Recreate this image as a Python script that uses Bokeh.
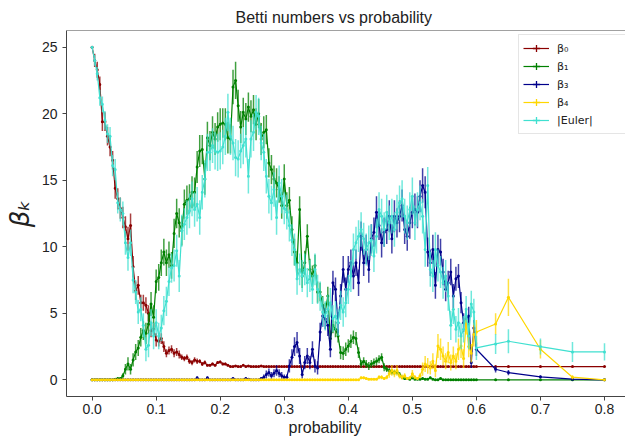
from bokeh.plotting import figure
from bokeh.models import (Range1d, Span, Legend, LegendItem, ColumnDataSource,
                          NumeralTickFormatter, FixedTicker, Title)
from bokeh.embed import file_html
from bokeh.resources import INLINE

# ---------------- data ----------------
prob = [round(0.004 * i, 3) for i in range(151)] + [0.63, 0.65, 0.7, 0.75, 0.8]

beta0 = [
    25.0, 24.0, 23.3, 22.2, 19.4, 19.4, 18.3, 17.5, 16.5, 14.4,
    13.6, 12.9, 12.2, 11.5, 10.6, 11.6, 8.5, 6.7, 7.1, 5.8,
    5.8, 5.6, 5.0, 3.7, 3.8, 3.0, 2.9, 3.1, 2.5, 2.0,
    2.2, 2.3, 2.0, 2.1, 1.9, 1.7, 1.6, 1.7, 1.4, 1.3,
    1.5, 1.4, 1.4, 1.2, 1.3, 1.1, 1.1, 1.2, 1.1, 1.3,
    1.35, 1.2, 1.2, 1.1, 1.0, 1.0, 1.05, 1.0, 1.0, 1.1,
    1.0, 1.05, 1.0, 1.0, 1.0, 1.0, 1.05, 1.0, 1.0, 1.0,
    1.0, 1.0, 1.0, 1.0, 1.0, 1.0, 1.0, 1.0, 1.0, 1.0,
    1.0, 1.0, 1.0, 1.0, 1.0, 1.0, 1.0, 1.0, 1.0, 1.0,
    1.0, 1.0, 1.0, 1.0, 1.0, 1.0, 1.0, 1.0, 1.0, 1.0,
    1.0, 1.0, 1.0, 1.0, 1.0, 1.0, 1.0, 1.0, 1.0, 1.0,
    1.0, 1.0, 1.0, 1.0, 1.0, 1.0, 1.0, 1.0, 1.0, 1.0,
    1.0, 1.0, 1.0, 1.0, 1.0, 1.0, 1.0, 1.0, 1.0, 1.0,
    1.0, 1.0, 1.0, 1.0, 1.0, 1.0, 1.0, 1.0, 1.0, 1.0,
    1.0, 1.0, 1.0, 1.0, 1.0, 1.0, 1.0, 1.0, 1.0, 1.0, 1.0,
    1.0, 1.0, 1.0, 1.0, 1.0,
]
beta0_err = [
    0.0, 0.5, 0.6, 0.6, 0.7, 0.7, 0.7, 0.7, 0.7, 0.8,
    0.8, 0.8, 0.8, 0.8, 0.9, 0.9, 0.8, 0.7, 0.7, 0.6,
    0.6, 0.6, 0.6, 0.5, 0.5, 0.5, 0.4, 0.4, 0.4, 0.3,
    0.3, 0.3, 0.3, 0.3, 0.3, 0.2, 0.2, 0.2, 0.2, 0.2,
    0.2, 0.2, 0.15, 0.15, 0.15, 0.1, 0.1, 0.1, 0.1, 0.1,
    0.1, 0.1, 0.1, 0.1, 0.05, 0.05, 0.05, 0.05, 0.05, 0.05,
    0.05, 0.05, 0.05, 0.05, 0.05, 0.05, 0.05, 0.05, 0.05, 0.05,
    0.0, 0.0, 0.0, 0.0, 0.0, 0.0, 0.0, 0.0, 0.0, 0.0,
    0.0, 0.0, 0.0, 0.0, 0.0, 0.0, 0.0, 0.0, 0.0, 0.0,
    0.0, 0.0, 0.0, 0.0, 0.0, 0.0, 0.0, 0.0, 0.0, 0.0,
    0.0, 0.0, 0.0, 0.0, 0.0, 0.0, 0.0, 0.0, 0.0, 0.0,
    0.0, 0.0, 0.0, 0.0, 0.0, 0.0, 0.0, 0.0, 0.0, 0.0,
    0.0, 0.0, 0.0, 0.0, 0.0, 0.0, 0.0, 0.0, 0.0, 0.0,
    0.0, 0.0, 0.0, 0.0, 0.0, 0.0, 0.0, 0.0, 0.0, 0.0,
    0.0, 0.0, 0.0, 0.0, 0.0, 0.0, 0.0, 0.0, 0.0, 0.0, 0.0,
    0.0, 0.0, 0.0, 0.0, 0.0,
]

beta1 = [
    0.0, 0.0, 0.0, 0.0, 0.0, 0.0, 0.0, 0.0, 0.0, 0.05,
    0.1, 0.1, 0.3, 0.8, 1.2, 0.8, 1.5, 2.1, 2.4, 3.2,
    3.7, 3.5, 4.2, 5.7, 4.7, 7.4, 7.7, 8.8, 9.6, 8.8,
    9.4, 8.6, 11.0, 12.5, 11.8, 11.2, 13.2, 13.5, 13.6, 14.1,
    14.1, 16.0, 17.2, 17.3, 15.1, 18.2, 17.6, 18.6, 18.1, 19.0,
    19.2, 19.3, 19.2, 18.2, 18.1, 22.0, 22.5, 20.6, 19.0, 20.1,
    19.6, 20.5, 19.8, 20.3, 19.2, 20.0, 18.1, 18.6, 18.8, 16.3,
    15.8, 15.1, 14.8, 14.3, 13.1, 15.1, 13.1, 13.5, 11.3, 9.6,
    8.8, 12.8, 7.8, 8.8, 10.8, 8.3, 7.8, 8.6, 6.6, 6.6,
    5.6, 5.1, 6.3, 3.1, 4.1, 3.8, 3.3, 2.05, 2.0, 2.3,
    2.55, 2.9, 3.2, 3.1, 2.05, 1.2, 1.4, 1.2, 1.05, 1.2,
    1.3, 1.4, 1.55, 1.7, 0.95, 0.8, 0.7, 0.6, 0.55, 0.6,
    0.4, 0.2, 0.1, 0.1, 0.05, 0.15, 0.05, 0.05, 0.05, 0.1,
    0.05, 0.05, 0.15, 0.05, 0.0, 0.0, 0.1, 0.0, 0.0, 0.0,
    0.0, 0.0, 0.0, 0.0, 0.0, 0.0, 0.0, 0.0, 0.0, 0.0, 0.0,
    0.0, 0.0, 0.0, 0.0, 0.0,
]
beta1_err = [
    0.0, 0.0, 0.0, 0.0, 0.0, 0.0, 0.0, 0.0, 0.0, 0.05,
    0.1, 0.1, 0.2, 0.4, 0.5, 0.4, 0.5, 0.6, 0.6, 0.7,
    0.7, 0.8, 0.8, 0.9, 0.9, 0.9, 1.0, 1.0, 1.0, 1.0,
    1.0, 1.0, 1.1, 1.1, 1.1, 1.1, 1.1, 1.1, 1.1, 1.2,
    1.1, 1.2, 1.2, 1.1, 1.2, 1.2, 1.1, 1.2, 1.2, 1.1,
    1.2, 1.1, 1.2, 1.2, 1.1, 1.3, 1.4, 1.2, 1.2, 1.1,
    1.2, 1.1, 1.2, 1.1, 1.2, 1.1, 1.2, 1.2, 1.1, 1.1,
    1.1, 1.0, 1.1, 1.0, 1.0, 1.1, 1.0, 1.0, 1.0, 1.0,
    0.9, 1.0, 0.9, 0.9, 0.9, 0.8, 0.8, 0.8, 0.8, 0.7,
    0.7, 0.7, 0.7, 0.6, 0.6, 0.6, 0.5, 0.5, 0.5, 0.5,
    0.5, 0.5, 0.5, 0.5, 0.4, 0.3, 0.3, 0.3, 0.3, 0.3,
    0.3, 0.3, 0.3, 0.3, 0.3, 0.2, 0.2, 0.2, 0.2, 0.2,
    0.2, 0.1, 0.1, 0.1, 0.05, 0.1, 0.05, 0.05, 0.05, 0.1,
    0.05, 0.05, 0.1, 0.05, 0.0, 0.0, 0.1, 0.0, 0.0, 0.0,
    0.0, 0.0, 0.0, 0.0, 0.0, 0.0, 0.0, 0.0, 0.0, 0.0, 0.0,
    0.0, 0.0, 0.0, 0.0, 0.0,
]

beta3 = [
    0.0, 0.0, 0.0, 0.0, 0.0, 0.0, 0.0, 0.0, 0.0, 0.0,
    0.0, 0.0, 0.0, 0.0, 0.0, 0.0, 0.0, 0.0, 0.0, 0.0,
    0.0, 0.0, 0.0, 0.0, 0.0, 0.0, 0.0, 0.0, 0.0, 0.0,
    0.0, 0.0, 0.0, 0.0, 0.0, 0.0, 0.0, 0.0, 0.0, 0.0,
    0.0, 0.15, 0.0, 0.0, 0.0, 0.15, 0.0, 0.0, 0.0, 0.0,
    0.0, 0.0, 0.0, 0.0, 0.0, 0.1, 0.0, 0.0, 0.0, 0.0,
    0.1, 0.05, 0.0, 0.0, 0.0, 0.0, 0.1, 0.2, 0.4, 0.55,
    0.3, 0.5, 0.7, 0.5, 0.3, 0.2, 0.2, 1.05, 1.7, 2.5,
    2.8, 1.8, 0.4, 1.3, 1.8, 1.3, 2.3, 1.05, 0.9, 3.6,
    4.8, 4.6, 4.1, 2.3, 7.3, 6.8, 4.3, 6.3, 8.3, 6.8,
    8.3, 8.8, 7.8, 8.8, 7.3, 10.8, 8.8, 9.8, 8.3, 10.6,
    11.1, 12.6, 11.6, 10.3, 11.1, 11.3, 12.3, 10.6, 12.3, 11.8,
    12.3, 13.1, 11.3, 10.8, 11.8, 12.6, 12.8, 12.6, 13.8, 14.6,
    14.1, 9.6, 8.8, 9.8, 7.1, 9.8, 9.6, 8.1, 6.8, 7.3,
    8.1, 6.3, 7.6, 7.8, 5.8, 4.3, 4.6, 4.8, 1.3, 3.9, 2.3,
    0.8, 0.55, 0.23, 0.05, 0.0,
]
beta3_err = [
    0.0, 0.0, 0.0, 0.0, 0.0, 0.0, 0.0, 0.0, 0.0, 0.0,
    0.0, 0.0, 0.0, 0.0, 0.0, 0.0, 0.0, 0.0, 0.0, 0.0,
    0.0, 0.0, 0.0, 0.0, 0.0, 0.0, 0.0, 0.0, 0.0, 0.0,
    0.0, 0.0, 0.0, 0.0, 0.0, 0.0, 0.0, 0.0, 0.0, 0.0,
    0.0, 0.1, 0.0, 0.0, 0.0, 0.1, 0.0, 0.0, 0.0, 0.0,
    0.0, 0.0, 0.0, 0.0, 0.0, 0.1, 0.0, 0.0, 0.0, 0.0,
    0.1, 0.05, 0.0, 0.0, 0.0, 0.0, 0.1, 0.2, 0.3, 0.3,
    0.3, 0.3, 0.4, 0.3, 0.3, 0.2, 0.2, 0.5, 0.6, 0.7,
    0.8, 0.6, 0.3, 0.5, 0.6, 0.5, 0.6, 0.5, 0.5, 0.7,
    0.8, 0.8, 0.8, 0.6, 0.9, 0.9, 0.8, 0.9, 1.0, 0.9,
    1.0, 1.0, 1.0, 1.0, 1.0, 1.1, 1.0, 1.1, 1.0, 1.1,
    1.1, 1.2, 1.1, 1.1, 1.1, 1.1, 1.2, 1.1, 1.2, 1.1,
    1.2, 1.2, 1.1, 1.1, 1.2, 1.2, 1.2, 1.2, 1.2, 1.3,
    1.2, 1.1, 1.0, 1.1, 1.0, 1.1, 1.0, 1.0, 0.9, 0.9,
    1.0, 0.9, 0.9, 0.9, 0.8, 0.7, 0.7, 0.7, 0.4, 0.6, 0.5,
    0.25, 0.2, 0.1, 0.05, 0.0,
]

beta4 = [
    0.0, 0.0, 0.0, 0.0, 0.0, 0.0, 0.0, 0.0, 0.0, 0.0,
    0.0, 0.0, 0.0, 0.0, 0.0, 0.0, 0.0, 0.0, 0.0, 0.0,
    0.0, 0.0, 0.0, 0.0, 0.0, 0.0, 0.0, 0.0, 0.0, 0.0,
    0.0, 0.0, 0.0, 0.0, 0.0, 0.0, 0.0, 0.0, 0.0, 0.0,
    0.0, 0.0, 0.0, 0.0, 0.0, 0.0, 0.0, 0.0, 0.0, 0.0,
    0.0, 0.0, 0.0, 0.0, 0.0, 0.0, 0.0, 0.0, 0.0, 0.0,
    0.0, 0.0, 0.0, 0.0, 0.0, 0.0, 0.0, 0.0, 0.0, 0.0,
    0.0, 0.0, 0.0, 0.0, 0.0, 0.0, 0.0, 0.0, 0.0, 0.0,
    0.0, 0.0, 0.0, 0.0, 0.0, 0.0, 0.0, 0.0, 0.0, 0.0,
    0.0, 0.0, 0.0, 0.0, 0.0, 0.0, 0.0, 0.0, 0.0, 0.0,
    0.0, 0.0, 0.0, 0.0, 0.0, 0.15, 0.15, 0.1, 0.05, 0.05,
    0.05, 0.05, 0.2, 0.2, 0.1, 0.2, 0.45, 0.7, 0.5, 0.7,
    0.3, 0.2, 0.3, 0.1, 0.15, 0.45, 0.2, 0.1, 0.3, 0.8,
    1.2, 1.05, 0.9, 1.4, 0.7, 2.55, 2.3, 1.8, 1.4, 2.05,
    1.3, 1.8, 1.4, 2.3, 2.55, 1.6, 4.4, 2.5, 2.0, 3.4, 3.6,
    4.2, 6.2, 2.3, 0.2, 0.0,
]
beta4_err = [
    0.0, 0.0, 0.0, 0.0, 0.0, 0.0, 0.0, 0.0, 0.0, 0.0,
    0.0, 0.0, 0.0, 0.0, 0.0, 0.0, 0.0, 0.0, 0.0, 0.0,
    0.0, 0.0, 0.0, 0.0, 0.0, 0.0, 0.0, 0.0, 0.0, 0.0,
    0.0, 0.0, 0.0, 0.0, 0.0, 0.0, 0.0, 0.0, 0.0, 0.0,
    0.0, 0.0, 0.0, 0.0, 0.0, 0.0, 0.0, 0.0, 0.0, 0.0,
    0.0, 0.0, 0.0, 0.0, 0.0, 0.0, 0.0, 0.0, 0.0, 0.0,
    0.0, 0.0, 0.0, 0.0, 0.0, 0.0, 0.0, 0.0, 0.0, 0.0,
    0.0, 0.0, 0.0, 0.0, 0.0, 0.0, 0.0, 0.0, 0.0, 0.0,
    0.0, 0.0, 0.0, 0.0, 0.0, 0.0, 0.0, 0.0, 0.0, 0.0,
    0.0, 0.0, 0.0, 0.0, 0.0, 0.0, 0.0, 0.0, 0.0, 0.0,
    0.0, 0.0, 0.0, 0.0, 0.0, 0.1, 0.1, 0.1, 0.05, 0.05,
    0.05, 0.05, 0.15, 0.15, 0.1, 0.15, 0.3, 0.4, 0.3, 0.4,
    0.2, 0.2, 0.2, 0.1, 0.1, 0.3, 0.15, 0.1, 0.2, 0.5,
    0.6, 0.6, 0.5, 0.6, 0.5, 0.9, 0.8, 0.7, 0.6, 0.8,
    0.6, 0.7, 0.6, 0.8, 0.9, 0.7, 1.0, 0.8, 0.7, 0.9, 0.9,
    0.8, 1.4, 0.7, 0.15, 0.0,
]

euler = [
    25.0, 24.0, 23.0, 21.2, 20.7, 19.5, 18.5, 18.3, 16.1, 15.8,
    13.3, 12.8, 12.5, 10.3, 9.2, 10.3, 7.5, 6.6, 5.1, 5.3,
    4.1, 2.3, 2.6, 4.3, 3.3, 4.3, 3.3, 3.9, 5.2, 5.9,
    7.4, 8.4, 8.6, 9.7, 7.8, 11.2, 11.7, 12.2, 12.7, 13.6,
    12.8, 13.2, 12.2, 14.1, 15.1, 17.1, 17.1, 17.6, 17.2, 17.1,
    17.2, 17.5, 18.3, 20.1, 18.3, 17.8, 16.7, 16.6, 17.2, 17.6,
    18.1, 15.3, 18.1, 18.6, 20.1, 19.8, 17.8, 17.1, 15.3, 13.8,
    13.3, 14.3, 12.2, 14.8, 13.8, 12.9, 12.6, 11.6, 10.5, 9.8,
    7.6, 8.3, 7.8, 8.3, 7.3, 7.8, 6.8, 8.3, 6.8, 6.3,
    5.1, 4.8, 5.3, 5.8, 4.6, 4.8, 4.3, 5.6, 5.1, 5.8,
    6.8, 7.8, 9.8, 10.3, 10.8, 11.3, 10.6, 9.8, 10.3, 10.5,
    9.3, 10.8, 12.8, 12.3, 11.3, 12.6, 11.8, 12.3, 11.3, 12.6,
    13.3, 13.6, 12.3, 11.8, 12.8, 13.8, 11.8, 12.8, 13.3, 12.3,
    9.8, 14.6, 8.3, 7.8, 9.8, 8.6, 8.1, 7.3, 7.8, 6.3,
    4.1, 5.3, 3.8, 4.3, 3.3, 3.8, 5.3, 3.3, 5.7, 5.1, 2.4,
    2.7, 2.9, 2.5, 2.1, 2.1,
]
euler_err = [
    0.0, 0.4, 0.5, 0.6, 0.6, 0.7, 0.7, 0.7, 0.8, 0.8,
    0.8, 0.9, 0.9, 0.9, 1.0, 1.0, 1.0, 0.9, 0.9, 0.9,
    0.9, 0.9, 0.9, 1.0, 1.0, 1.0, 1.0, 1.0, 1.1, 1.1,
    1.1, 1.1, 1.2, 1.2, 1.2, 1.2, 1.2, 1.3, 1.3, 1.3,
    1.3, 1.3, 1.3, 1.3, 1.4, 1.4, 1.4, 1.3, 1.4, 1.4,
    1.4, 1.3, 1.4, 1.4, 1.4, 1.3, 1.4, 1.4, 1.3, 1.4,
    1.4, 1.3, 1.4, 1.4, 1.3, 1.4, 1.3, 1.4, 1.3, 1.3,
    1.3, 1.3, 1.3, 1.3, 1.3, 1.2, 1.3, 1.2, 1.2, 1.2,
    1.2, 1.2, 1.2, 1.2, 1.1, 1.2, 1.1, 1.2, 1.1, 1.1,
    1.1, 1.1, 1.1, 1.1, 1.0, 1.1, 1.0, 1.1, 1.1, 1.1,
    1.1, 1.2, 1.2, 1.2, 1.2, 1.3, 1.2, 1.2, 1.3, 1.2,
    1.2, 1.3, 1.3, 1.3, 1.3, 1.3, 1.3, 1.3, 1.3, 1.3,
    1.3, 1.4, 1.3, 1.3, 1.3, 1.4, 1.3, 1.3, 1.3, 1.3,
    1.3, 1.4, 1.3, 1.2, 1.3, 1.2, 1.2, 1.2, 1.2, 1.1,
    1.1, 1.1, 1.0, 1.1, 1.0, 1.0, 1.0, 1.0, 1.0, 1.0, 0.9,
    0.75, 0.9, 0.6, 0.75, 0.65,
]

series_labels = ["β₀", "β₁", "β₃", "β₄", "|Euler|"]
series_values = [beta0, beta1, beta3, beta4, euler]
series_errors = [beta0_err, beta1_err, beta3_err, beta4_err, euler_err]
series_colors = ["#8B0000", "#008000", "#00008B", "#FFD700", "#40E0D0"]

x_ticks = [0.0, 0.1, 0.2, 0.3, 0.4, 0.5, 0.6, 0.7, 0.8]
y_ticks = [0, 5, 10, 15, 20, 25]

X_START, X_END = -0.04, 0.8328
Y_START, Y_END = -1.25, 26.25

# ---------------- figure ----------------
FONT = "Liberation Sans"
AXIS_COLOR = "#444444"
TEXT_COLOR = "#222222"

p = figure(width=625, height=436, output_backend="svg", toolbar_location=None,
           x_range=Range1d(X_START, X_END), y_range=Range1d(Y_START, Y_END),
           min_border_left=66, min_border_right=0, min_border_top=30,
           min_border_bottom=40)
p.outline_line_color = None
p.grid.visible = False
p.background_fill_color = "white"
p.border_fill_color = "white"

p.title.text = "Betti numbers vs probability"
p.title.align = "left"
p.title.offset = 169
p.title.text_font = FONT
p.title.text_font_size = "16px"
p.title.text_font_style = "normal"
p.title.text_color = TEXT_COLOR

for ax in (p.xaxis[0], p.yaxis[0]):
    ax.axis_line_color = AXIS_COLOR
    ax.major_tick_line_color = AXIS_COLOR
    ax.minor_tick_line_color = None
    ax.major_tick_in = 0
    ax.major_tick_out = 4
    ax.major_label_text_font = FONT
    ax.major_label_text_font_size = "14px"
    ax.major_label_text_color = TEXT_COLOR

p.xaxis.ticker = FixedTicker(ticks=x_ticks)
p.xaxis.formatter = NumeralTickFormatter(format="0.0")
p.xaxis.major_label_standoff = 3

# x-axis label as a below-panel title so it can sit where the reference has it
xlab = Title(text="probability", align="left", offset=222,
             text_font=FONT, text_font_size="16px", text_font_style="normal",
             text_color=TEXT_COLOR, standoff=0)
p.add_layout(xlab, "below")

p.yaxis.ticker = FixedTicker(ticks=y_ticks)
p.yaxis.major_label_standoff = 5
p.yaxis.axis_label = "βₖ"
p.yaxis.axis_label_text_font = "DejaVu Sans"
p.yaxis.axis_label_text_font_size = "26px"
p.yaxis.axis_label_text_font_style = "italic"
p.yaxis.axis_label_text_color = TEXT_COLOR
p.yaxis.axis_label_standoff = 4

# top spine
p.add_layout(Span(location=Y_END, dimension="width", line_color=AXIS_COLOR,
                  line_width=1))

legend_items = []
for label, vals, errs, color in zip(series_labels, series_values,
                                    series_errors, series_colors):
    assert len(vals) == len(prob) and len(errs) == len(prob), label
    src = ColumnDataSource(dict(
        x=prob, y=vals,
        lo=[v - e for v, e in zip(vals, errs)],
        hi=[v + e for v, e in zip(vals, errs)],
    ))
    p.segment(x0="x", y0="lo", x1="x", y1="hi", source=src,
              line_color=color, line_width=1.5, line_alpha=0.75)
    ln = p.line("x", "y", source=src, line_color=color, line_width=1.2)
    p.scatter("x", "y", source=src, size=3, marker="circle",
              fill_color=color, line_color=None)
    # legend-only marker (errorbar cross look); NaN point is never drawn
    nan_src = ColumnDataSource(dict(x=[float("nan")], y=[float("nan")]))
    cr = p.scatter("x", "y", source=nan_src, marker="cross", line_color=color,
                   line_width=1.3, size=10)
    legend_items.append(LegendItem(label=label, renderers=[ln, cr]))

legend = Legend(items=legend_items, location=(452, 262))
legend.border_line_color = "#cccccc"
legend.border_line_width = 1
legend.background_fill_color = "white"
legend.background_fill_alpha = 1.0
legend.label_text_font = "DejaVu Sans"
legend.label_text_font_size = "11px"
legend.label_text_color = TEXT_COLOR
legend.glyph_width = 26
legend.glyph_height = 18
legend.label_height = 18
legend.spacing = 0
legend.padding = 4
legend.margin = 0
legend.label_standoff = 8
legend.label_width = 70
p.add_layout(legend)

open("out.html", "w").write(file_html(p, INLINE))
